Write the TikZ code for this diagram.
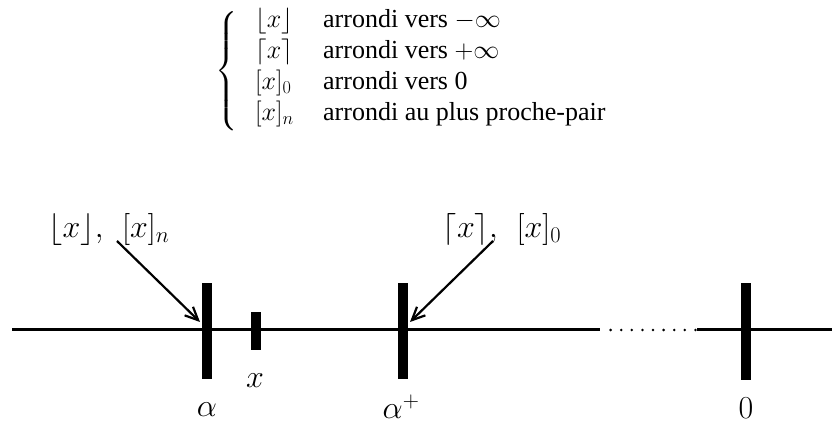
\RequirePackage{fix-cm}
\documentclass[tikz,border=0pt]{standalone}
\usepackage{exscale}
\usepackage[no-math]{fontspec}
\setmainfont{Liberation Serif}
\usetikzlibrary{arrows.meta}
\begin{document}
\begin{tikzpicture}[x=1pt,y=1pt,
  axisline/.style={line width=3pt},
  tickmark/.style={line width=10pt},
  pointer/.style={line width=2.2pt,-{Straight Barb[length=13pt,width=12pt,line width=2.2pt]}},
  biglabel/.style={inner sep=0pt,anchor=base,font=\fontsize{32}{38}\selectfont},
  rowtext/.style={inner sep=0pt,anchor=base west,font=\fontsize{26}{31}\selectfont}]
\useasboundingbox (0,0) rectangle (833,425);

% legend block
\node[inner sep=0pt,font=\fontsize{26}{31}\selectfont] (brace) at (227,354)
  {$\left\{\vcenter{\hbox{\vrule height 112pt width 0pt}}\right.$};
\node[rowtext] (m1) at (255,397) {$\lfloor x\rfloor$};
\node[rowtext] (t1) at (323,397) {arrondi vers $-\infty$};
\node[rowtext] (m2) at (255,366) {$\lceil x\rceil$};
\node[rowtext] (t2) at (323,366) {arrondi vers $+\infty$};
\node[rowtext] (m3) at (255,335) {$[x]_0$};
\node[rowtext] (t3) at (323,335) {arrondi vers 0};
\node[rowtext] (m4) at (255,304) {$[x]_n$};
\node[rowtext] (t4) at (323,304) {arrondi au plus proche-pair};

% axis
\coordinate (aL) at (12,95);
\coordinate (aM) at (600,95);
\coordinate (aN) at (697,95);
\coordinate (aR) at (832,95);
\draw[axisline] (aL) -- (aM);
\draw[axisline] (aN) -- (aR);
\foreach \k in {1,...,9} \fill (600+\k*10.6,95) circle (1.4pt);

% ticks
\coordinate (taT) at (207,142); \coordinate (taB) at (207,46);
\coordinate (txT) at (256,113); \coordinate (txB) at (256,75);
\coordinate (tpT) at (403,142); \coordinate (tpB) at (403,46);
\coordinate (tzT) at (746,142); \coordinate (tzB) at (746,45);
\draw[tickmark] (taB) -- (taT);
\draw[tickmark] (txB) -- (txT);
\draw[tickmark] (tpB) -- (tpT);
\draw[tickmark] (tzB) -- (tzT);

% tick labels
\node[biglabel] (la) at (207,8) {$\alpha$};
\node[biglabel] (lx) at (255,37) {$x$};
\node[biglabel] (lp) at (401,6) {$\alpha^+$};
\node[biglabel] (lz) at (746,6) {$0$};

% pointer labels
\node[biglabel] (fl) at (109,187) {$\lfloor x\rfloor,\ \,[x]_n$};
\node[biglabel] (cl) at (502,187) {$\lceil x\rceil,\ \,[x]_0$};
\coordinate (fs) at (117,184);
\coordinate (ft) at (200,103);
\coordinate (cs) at (493,184);
\coordinate (ct) at (410,103);
\draw[pointer] (fs) -- (ft);
\draw[pointer] (cs) -- (ct);
\end{tikzpicture}
\end{document}
